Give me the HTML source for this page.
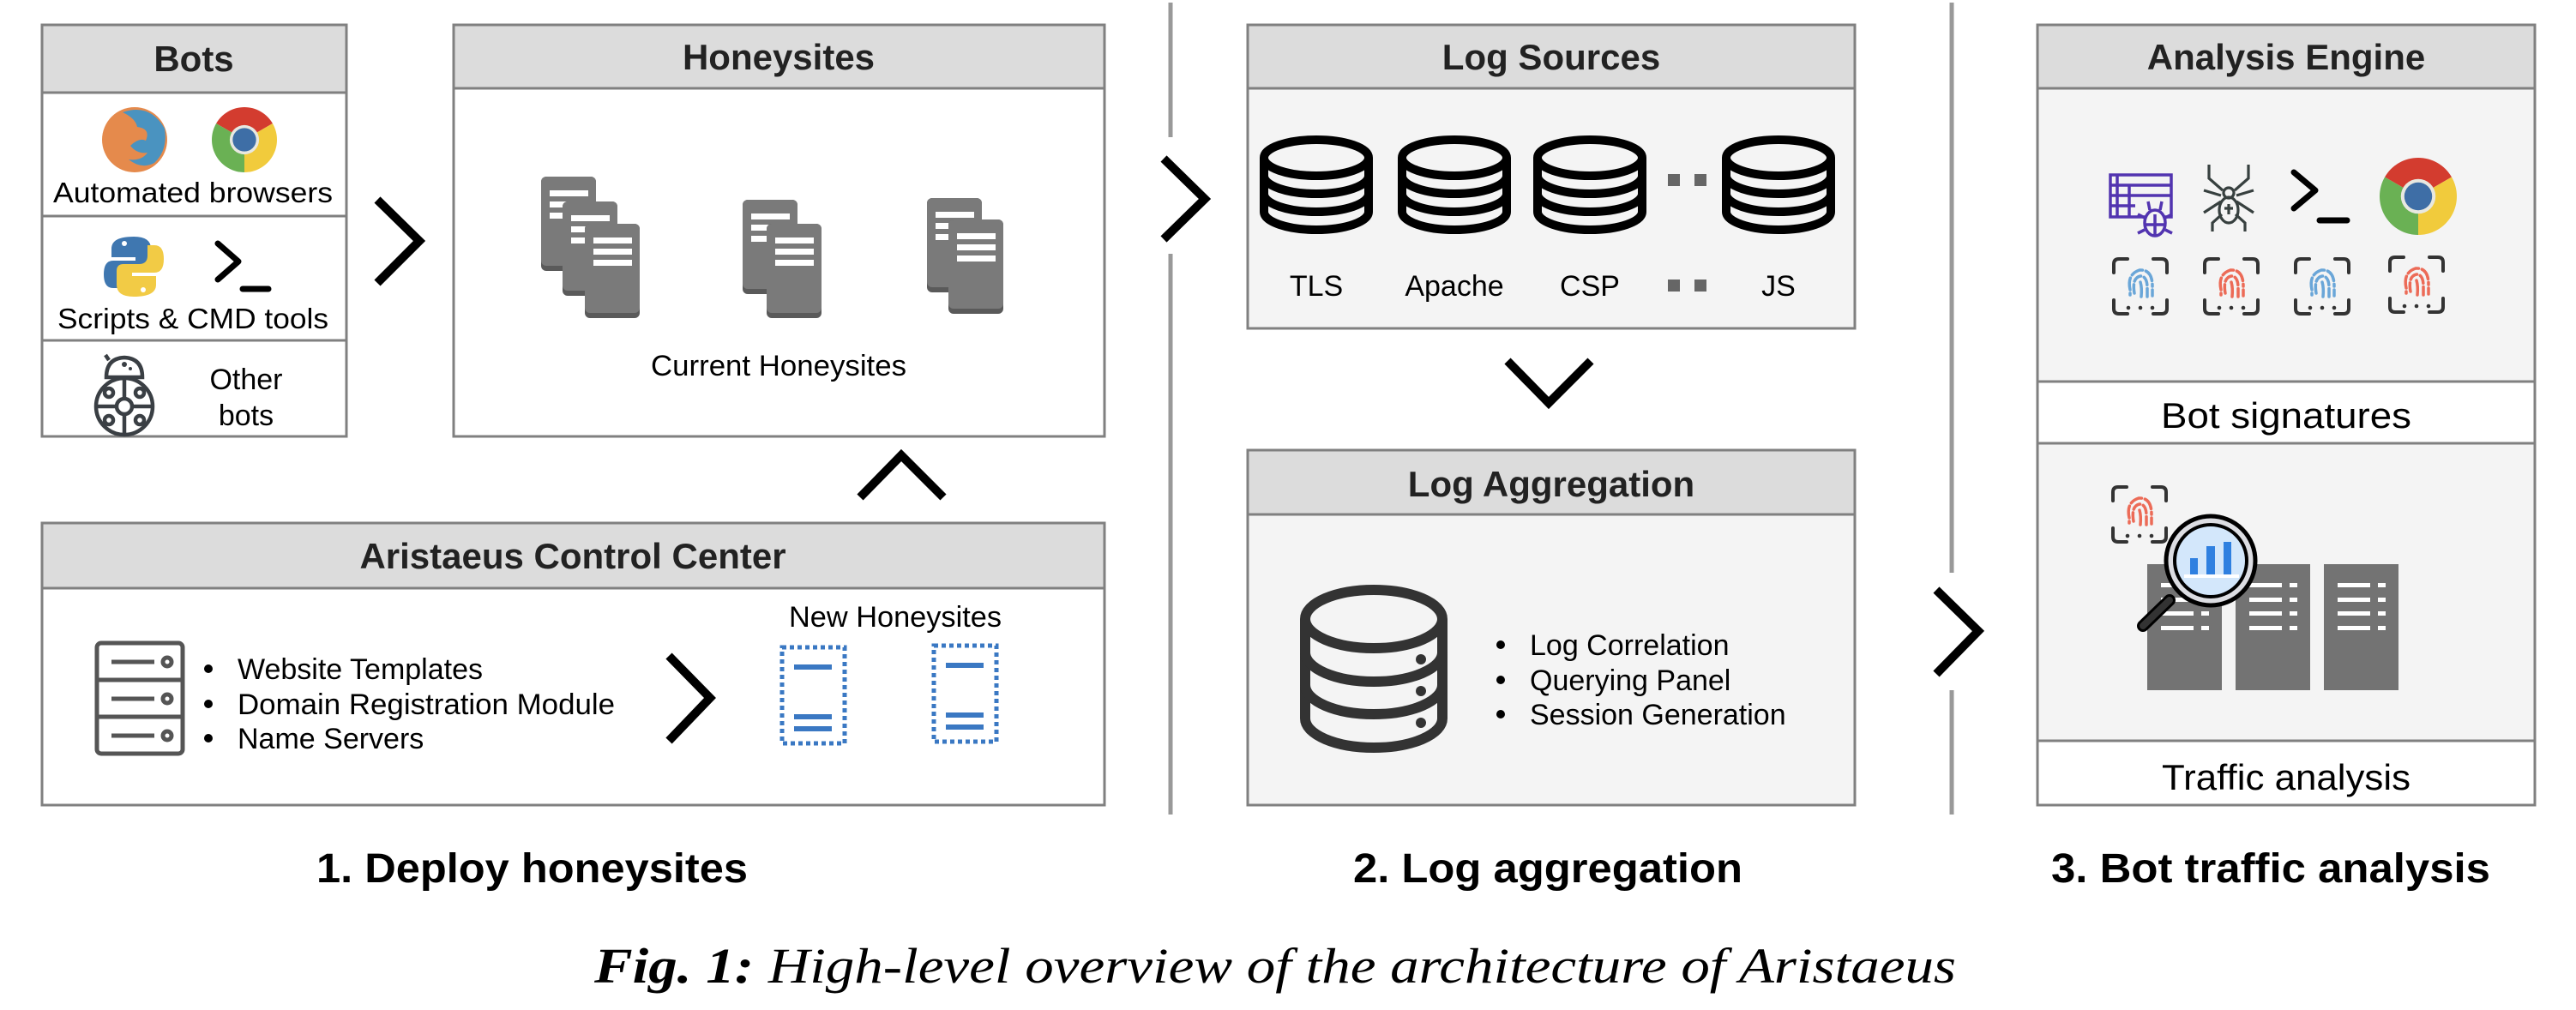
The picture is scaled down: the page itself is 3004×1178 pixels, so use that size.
<!DOCTYPE html>
<html><head><meta charset="utf-8"><style>
html,body{margin:0;padding:0;background:#fff;}
svg{display:block;}
text{font-family:"Liberation Sans",Arial,sans-serif;}
</style></head><body>
<svg width="3004" height="1178" viewBox="0 0 3004 1178" xmlns="http://www.w3.org/2000/svg">
<defs>
<g id="fp">
 <path d="M2,18 V8 Q2,2 8,2 H18 M48,2 H58 Q64,2 64,8 V18 M2,50 V60 Q2,66 8,66 H18 M64,50 V60 Q64,66 58,66 H48" fill="none" stroke="#333" stroke-width="4" stroke-linecap="round"/>
 <circle cx="19" cy="59" r="2.3" fill="#333"/><circle cx="33" cy="59" r="2.3" fill="#333"/><circle cx="47" cy="59" r="2.3" fill="#333"/>
</g>
<g id="fpb"><use href="#fp"/><g fill="none" stroke="#6aa6d8" stroke-width="3.5" stroke-linecap="round"><path d="M21,38 Q17,20 32,15 Q47,14 47,34 M47,38 V45" stroke-dasharray="14 4"/><path d="M26,42 Q23,24 33,22 Q41,22 41,36 V46" stroke-dasharray="10 4"/><path d="M33,29 Q35,36 34,46"/><path d="M21,42 V44"/></g></g>
<g id="fpr"><use href="#fp"/><g fill="none" stroke="#ec6b57" stroke-width="3.5" stroke-linecap="round"><path d="M21,38 Q17,20 32,15 Q47,14 47,34 M47,38 V45" stroke-dasharray="14 4"/><path d="M26,42 Q23,24 33,22 Q41,22 41,36 V46" stroke-dasharray="10 4"/><path d="M33,29 Q35,36 34,46"/><path d="M21,42 V44"/></g></g>
<g id="chrome">
 <path d="M0,0 L-0.866,-0.5 A1,1 0 0 1 0.866,-0.5 Z" fill="#d33c2f"/>
 <path d="M0,0 L0.866,-0.5 A1,1 0 0 1 0,1 Z" fill="#f1cb3c"/>
 <path d="M0,0 L0,1 A1,1 0 0 1 -0.866,-0.5 Z" fill="#6ab154"/>
 <circle r="0.45" fill="#e8e8e0"/><circle r="0.36" fill="#3e6ea6"/>
</g>
<g id="page"><rect x="0" y="0" width="64" height="110" rx="6" fill="#5a5a5a"/><rect x="0" y="0" width="64" height="104" rx="6" fill="#7a7a7a"/><rect x="10" y="16" width="45" height="7" fill="#fff"/><rect x="10" y="29" width="45" height="7" fill="#fff"/><rect x="10" y="42" width="45" height="7" fill="#fff"/></g>
<g id="db" fill="none" stroke="#000" stroke-width="10">
 <ellipse cx="0" cy="0" rx="61" ry="21"/>
 <path d="M-61,0 V63 A61,21 0 0 0 61,63 V0"/>
 <path d="M-61,21 A61,21 0 0 0 61,21"/>
 <path d="M-61,42 A61,21 0 0 0 61,42"/>
</g>
<g id="ndoc" fill="none"><rect x="0" y="0" width="73" height="112" stroke="#3a78c3" stroke-width="5" stroke-dasharray="5 4"/><rect x="14" y="20" width="44" height="6" fill="#3a78c3"/><rect x="14" y="78" width="44" height="6" fill="#3a78c3"/><rect x="14" y="92" width="44" height="6" fill="#3a78c3"/></g>
<g id="srv"><rect width="87" height="147" fill="#737373"/><g fill="#fff"><rect x="16" y="22" width="38" height="5"/><rect x="63" y="22" width="9" height="5"/><rect x="16" y="39" width="38" height="5"/><rect x="63" y="39" width="9" height="5"/><rect x="16" y="55" width="38" height="5"/><rect x="63" y="55" width="9" height="5"/><rect x="16" y="72" width="38" height="5"/><rect x="63" y="72" width="9" height="5"/></g></g>
</defs>

<g stroke="#999" stroke-width="5">
 <line x1="1365" y1="3" x2="1365" y2="160"/><line x1="1365" y1="296" x2="1365" y2="950"/>
 <line x1="2276" y1="3" x2="2276" y2="668"/><line x1="2276" y1="805" x2="2276" y2="950"/>
</g>

<rect x="49" y="29" width="355" height="480" fill="#fff" stroke="#808080" stroke-width="3"/>
<rect x="49" y="29" width="355" height="79" fill="#dcdcdc" stroke="#808080" stroke-width="3"/>
<line x1="49" y1="252" x2="404" y2="252" stroke="#808080" stroke-width="3"/>
<line x1="49" y1="397" x2="404" y2="397" stroke="#808080" stroke-width="3"/>
<text x="226" y="83" font-size="42" font-weight="bold" text-anchor="middle" fill="#222">Bots</text>
<circle cx="157" cy="163" r="38" fill="#e58a4c"/>
<path d="M143,131 Q175,120 192,150 Q196,175 180,190 Q165,198 150,186 Q165,188 172,178 Q160,180 152,170 Q162,160 170,164 Q176,150 160,148 Q158,138 143,131 Z" fill="#4a93c0"/>
<use href="#chrome" transform="translate(285,163) scale(38)"/>
<text x="62" y="236" font-size="33" textLength="326" lengthAdjust="spacingAndGlyphs">Automated browsers</text>
<path d="M156,276 Q130,276 130,290 V300 H158 V304 H132 Q121,304 121,320 Q121,336 132,336 H140 V324 Q140,314 150,314 H168 Q176,314 176,306 V290 Q176,276 156,276 Z" fill="#3f77b0"/>
<path d="M156,346 Q182,346 182,332 V322 H154 V318 H180 Q191,318 191,302 Q191,286 180,286 H172 V298 Q172,308 162,308 H144 Q136,308 136,316 V332 Q136,346 156,346 Z" fill="#f2cb45"/>
<circle cx="145" cy="284" r="3" fill="#fff"/><circle cx="167" cy="338" r="3" fill="#fff"/>
<path d="M254,284 L278,305 L254,326" fill="none" stroke="#000" stroke-width="7" stroke-linecap="round" stroke-linejoin="round"/>
<line x1="283" y1="337" x2="313" y2="337" stroke="#000" stroke-width="7" stroke-linecap="round"/>
<text x="67" y="383" font-size="33" textLength="316" lengthAdjust="spacingAndGlyphs">Scripts &amp; CMD tools</text>
<g fill="none" stroke="#3a3f44" stroke-width="4.5">
 <path d="M124,440 Q124,418 145,417 Q166,418 166,440 Z"/><line x1="127" y1="420" x2="123" y2="414"/>
 <circle cx="145" cy="474" r="33"/><circle cx="145" cy="474" r="9"/>
 <line x1="145" y1="441" x2="145" y2="465"/><line x1="145" y1="483" x2="145" y2="507"/>
 <line x1="112" y1="474" x2="136" y2="474"/><line x1="154" y1="474" x2="178" y2="474"/>
 <circle cx="127" cy="458" r="5"/><circle cx="163" cy="458" r="5"/><circle cx="127" cy="490" r="5"/><circle cx="163" cy="490" r="5"/>
</g>
<circle cx="145" cy="425" r="3" fill="#3a3f44"/><circle cx="152" cy="430" r="2" fill="#3a3f44"/>
<text x="287" y="454" font-size="34" text-anchor="middle">Other</text>
<text x="287" y="496" font-size="34" text-anchor="middle">bots</text>

<path d="M440,233 L489,281 L440,330" fill="none" stroke="#000" stroke-width="10"/>

<rect x="529" y="29" width="759" height="480" fill="#fff" stroke="#808080" stroke-width="3"/>
<rect x="529" y="29" width="759" height="74" fill="#dcdcdc" stroke="#808080" stroke-width="3"/>
<text x="908" y="81" font-size="42" font-weight="bold" text-anchor="middle" fill="#222">Honeysites</text>
<use href="#page" x="631" y="206"/><use href="#page" x="656" y="235"/><use href="#page" x="682" y="261"/>
<use href="#page" x="866" y="233"/><use href="#page" x="894" y="261"/>
<use href="#page" x="1081" y="231"/><use href="#page" x="1106" y="256"/>
<text x="908" y="438" font-size="34" text-anchor="middle" textLength="298" lengthAdjust="spacingAndGlyphs">Current Honeysites</text>

<path d="M1003,580 L1051,531 L1100,580" fill="none" stroke="#000" stroke-width="10"/>

<rect x="49" y="610" width="1239" height="329" fill="#fff" stroke="#808080" stroke-width="3"/>
<rect x="49" y="610" width="1239" height="76" fill="#dcdcdc" stroke="#808080" stroke-width="3"/>
<text x="668" y="663" font-size="42" font-weight="bold" text-anchor="middle" fill="#222">Aristaeus Control Center</text>
<g fill="none" stroke="#555" stroke-width="5">
 <rect x="113" y="750" width="100" height="129" rx="5"/>
 <line x1="113" y1="793" x2="213" y2="793"/><line x1="113" y1="836" x2="213" y2="836"/>
 <line x1="130" y1="772" x2="180" y2="772"/><line x1="130" y1="815" x2="180" y2="815"/><line x1="130" y1="858" x2="180" y2="858"/>
 <circle cx="195" cy="772" r="5"/><circle cx="195" cy="815" r="5"/><circle cx="195" cy="858" r="5"/>
</g>
<g font-size="34">
 <circle cx="243" cy="780" r="5"/><text x="277" y="792">Website Templates</text>
 <circle cx="243" cy="821" r="5"/><text x="277" y="833" textLength="440" lengthAdjust="spacingAndGlyphs">Domain Registration Module</text>
 <circle cx="243" cy="861" r="5"/><text x="277" y="873">Name Servers</text>
</g>
<path d="M780,765 L828,814 L780,864" fill="none" stroke="#000" stroke-width="10"/>
<text x="1044" y="731" font-size="34" text-anchor="middle" textLength="248" lengthAdjust="spacingAndGlyphs">New Honeysites</text>
<use href="#ndoc" x="912" y="755"/><use href="#ndoc" x="1089" y="753"/>

<path d="M1357,185 L1405,232 L1357,279" fill="none" stroke="#000" stroke-width="10"/>

<rect x="1455" y="29" width="708" height="354" fill="#f4f4f4" stroke="#808080" stroke-width="3"/>
<rect x="1455" y="29" width="708" height="74" fill="#dcdcdc" stroke="#808080" stroke-width="3"/>
<text x="1809" y="81" font-size="42" font-weight="bold" text-anchor="middle" fill="#222">Log Sources</text>
<use href="#db" transform="translate(1535,184)"/><use href="#db" transform="translate(1696,184)"/><use href="#db" transform="translate(1854,184)"/><use href="#db" transform="translate(2074,184)"/>
<rect x="1945" y="203" width="14" height="14" fill="#666"/><rect x="1976" y="203" width="14" height="14" fill="#666"/>
<rect x="1945" y="326" width="14" height="14" fill="#666"/><rect x="1976" y="326" width="14" height="14" fill="#666"/>
<g font-size="34" text-anchor="middle"><text x="1535" y="345">TLS</text><text x="1696" y="345">Apache</text><text x="1854" y="345">CSP</text><text x="2074" y="345">JS</text></g>

<path d="M1758,421 L1806,470 L1855,421" fill="none" stroke="#000" stroke-width="10"/>

<rect x="1455" y="525" width="708" height="414" fill="#f4f4f4" stroke="#808080" stroke-width="3"/>
<rect x="1455" y="525" width="708" height="75" fill="#dcdcdc" stroke="#808080" stroke-width="3"/>
<text x="1809" y="579" font-size="42" font-weight="bold" text-anchor="middle" fill="#222">Log Aggregation</text>
<g fill="none" stroke="#333" stroke-width="12">
 <ellipse cx="1602" cy="722" rx="80" ry="34"/>
 <path d="M1522,722 V838 A80,34 0 0 0 1682,838 V722"/>
 <path d="M1522,761 A80,34 0 0 0 1682,761"/><path d="M1522,799 A80,34 0 0 0 1682,799"/>
</g>
<circle cx="1657" cy="769" r="6" fill="#333"/><circle cx="1657" cy="806" r="6" fill="#333"/><circle cx="1657" cy="843" r="6" fill="#333"/>
<g font-size="34">
 <circle cx="1750" cy="752" r="5"/><text x="1784" y="764">Log Correlation</text>
 <circle cx="1750" cy="793" r="5"/><text x="1784" y="805">Querying Panel</text>
 <circle cx="1750" cy="833" r="5"/><text x="1784" y="845">Session Generation</text>
</g>

<path d="M2258,688 L2307,736 L2258,786" fill="none" stroke="#000" stroke-width="10"/>

<rect x="2376" y="29" width="580" height="910" fill="#f4f4f4" stroke="#808080" stroke-width="3"/>
<rect x="2376" y="29" width="580" height="74" fill="#dcdcdc" stroke="#808080" stroke-width="3"/>
<line x1="2376" y1="445" x2="2956" y2="445" stroke="#808080" stroke-width="3"/>
<line x1="2376" y1="517" x2="2956" y2="517" stroke="#808080" stroke-width="3"/>
<line x1="2376" y1="864" x2="2956" y2="864" stroke="#808080" stroke-width="3"/>
<rect x="2377.5" y="446.5" width="577" height="69" fill="#fff"/>
<rect x="2377.5" y="865.5" width="577" height="72" fill="#fff"/>
<text x="2666" y="81" font-size="42" font-weight="bold" text-anchor="middle" fill="#222">Analysis Engine</text>
<g fill="none" stroke="#5234b0" stroke-width="3.5">
 <rect x="2461" y="204" width="71" height="49"/><line x1="2461" y1="216" x2="2532" y2="216"/><line x1="2461" y1="228" x2="2532" y2="228"/><line x1="2461" y1="240" x2="2490" y2="240"/>
 <line x1="2469" y1="204" x2="2469" y2="253"/><line x1="2483" y1="216" x2="2483" y2="253"/>
 <ellipse cx="2513" cy="260" rx="12" ry="15" fill="#f4f4f4"/><line x1="2513" y1="250" x2="2513" y2="275"/><path d="M2501,262 L2513,262 L2525,262"/>
 <path d="M2505,235 L2507,245 M2521,235 L2519,245 M2501,254 L2493,250 M2525,254 L2533,250 M2501,268 L2493,272 M2525,268 L2533,272"/>
</g>
<g fill="none" stroke="#37403f" stroke-width="3.2">
 <ellipse cx="2599" cy="245" rx="11" ry="15"/><circle cx="2599" cy="225" r="6"/><path d="M2599,238 V250 M2594,243 H2604"/>
 <path d="M2592,222 L2576,208 L2576,192 M2606,222 L2622,208 L2622,192 M2590,228 L2570,222 M2608,228 L2628,222 M2590,235 L2570,248 M2608,235 L2628,248 M2591,250 L2580,260 L2580,270 M2607,250 L2618,260 L2618,270"/>
</g>
<path d="M2675,201 L2700,222 L2675,243" fill="none" stroke="#000" stroke-width="7" stroke-linecap="round" stroke-linejoin="round"/>
<line x1="2705" y1="257" x2="2737" y2="257" stroke="#000" stroke-width="7" stroke-linecap="round"/>
<use href="#chrome" transform="translate(2820,229) scale(45)"/>
<use href="#fpb" x="2463" y="300"/><use href="#fpr" x="2569" y="300"/><use href="#fpb" x="2675" y="300"/><use href="#fpr" x="2785" y="298"/>
<text x="2666" y="499" font-size="42" text-anchor="middle" textLength="292" lengthAdjust="spacingAndGlyphs">Bot signatures</text>
<use href="#fpr" x="2462" y="566"/>
<use href="#srv" x="2504" y="658"/><use href="#srv" x="2607" y="658"/><use href="#srv" x="2710" y="658"/>
<line x1="2499" y1="730" x2="2530" y2="700" stroke="#000" stroke-width="14" stroke-linecap="round"/>
<line x1="2499" y1="730" x2="2530" y2="700" stroke="#333" stroke-width="8" stroke-linecap="round"/>
<circle cx="2578" cy="654" r="52" fill="#dcdde2" stroke="#000" stroke-width="5"/>
<circle cx="2578" cy="654" r="42" fill="#d3e7fb" stroke="#000" stroke-width="4"/>
<rect x="2554" y="651" width="9" height="20" fill="#2f80e0"/><rect x="2573" y="637" width="10" height="34" fill="#2f80e0"/><rect x="2593" y="632" width="9" height="39" fill="#2f80e0"/>
<rect x="2547" y="670" width="64" height="4" fill="#fff"/>
<text x="2666" y="921" font-size="42" text-anchor="middle" textLength="290" lengthAdjust="spacingAndGlyphs">Traffic analysis</text>

<g font-size="48" font-weight="bold">
 <text x="369" y="1029" textLength="503" lengthAdjust="spacingAndGlyphs">1. Deploy honeysites</text>
 <text x="1578" y="1029" textLength="454" lengthAdjust="spacingAndGlyphs">2. Log aggregation</text>
 <text x="2392" y="1029" textLength="512" lengthAdjust="spacingAndGlyphs">3. Bot traffic analysis</text>
</g>
<text x="693" y="1146" font-size="58" font-style="italic" style="font-family:'Liberation Serif','Times New Roman',serif" textLength="1588" lengthAdjust="spacingAndGlyphs"><tspan font-weight="bold">Fig. 1:</tspan> High-level overview of the architecture of Aristaeus</text>
</svg>
</body></html>
